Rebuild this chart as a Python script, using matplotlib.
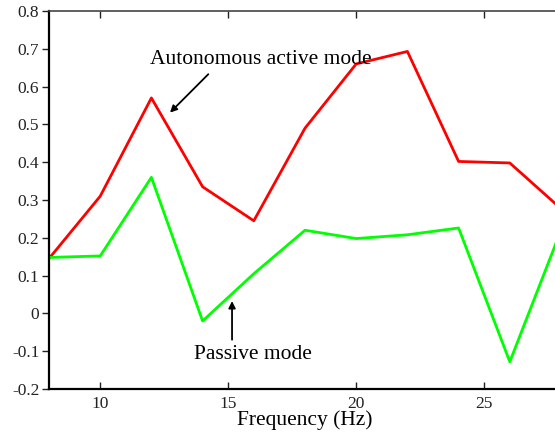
import matplotlib
matplotlib.use("Agg")
import matplotlib.pyplot as plt

plt.rcParams['font.family'] = ['Liberation Serif', 'DejaVu Serif']

freq = [8, 10, 12, 14, 16, 18, 20, 22, 24, 26, 28]
active = [0.145, 0.31, 0.57, 0.335, 0.245, 0.49, 0.66, 0.693, 0.402, 0.398, 0.277]
passive = [0.148, 0.152, 0.36, -0.02, 0.105, 0.22, 0.198, 0.208, 0.226, -0.128, 0.22]

yticks = [-0.2, -0.1, 0, 0.1, 0.2, 0.3, 0.4, 0.5, 0.6, 0.7, 0.8]
ylabels = ['-0.2', '-0.1', '0', '0.1', '0.2', '0.3', '0.4', '0.5', '0.6', '0.7', '0.8']
xticks = [10, 15, 20, 25]

fig = plt.figure(figsize=(5.55, 4.32), dpi=100)
ax = fig.add_axes([49 / 555, 43 / 432, 512 / 555, 378 / 432])

ax.plot(freq, active, color='#ff0000', lw=2)
ax.plot(freq, passive, color='#00ff00', lw=2)

ax.set_xlim(8, 28)
ax.set_ylim(-0.2, 0.8)
ax.set_yticks(yticks)
ax.set_yticklabels(ylabels)
ax.set_xticks(xticks)

ax.tick_params(axis='y', direction='out', length=5, width=1, labelsize=12.5, colors='#222222', pad=2)
ax.tick_params(axis='x', direction='in', length=5, width=1, labelsize=12.5, colors='#222222', top=True, pad=5)

for s in ['left', 'bottom']:
    ax.spines[s].set_linewidth(1.6)
    ax.spines[s].set_color('black')
ax.spines['top'].set_linewidth(1.2)
ax.spines['top'].set_color('#444444')
ax.spines['right'].set_visible(False)

ax.set_xlabel('Frequency (Hz)', fontsize=15.5, labelpad=-1)

ax.annotate('', xy=(12.65, 0.526), xytext=(14.3, 0.638),
            arrowprops=dict(arrowstyle='-|>', color='black', lw=1.3, mutation_scale=10))
ax.text(11.95, 0.672, 'Autonomous active mode', fontsize=15.5, va='center', ha='left')

ax.annotate('', xy=(15.15, 0.04), xytext=(15.15, -0.077),
            arrowprops=dict(arrowstyle='-|>', color='black', lw=1.3, mutation_scale=10))
ax.text(13.66, -0.108, 'Passive mode', fontsize=15.5, va='center', ha='left')

fig.savefig('out.png', dpi=100)
